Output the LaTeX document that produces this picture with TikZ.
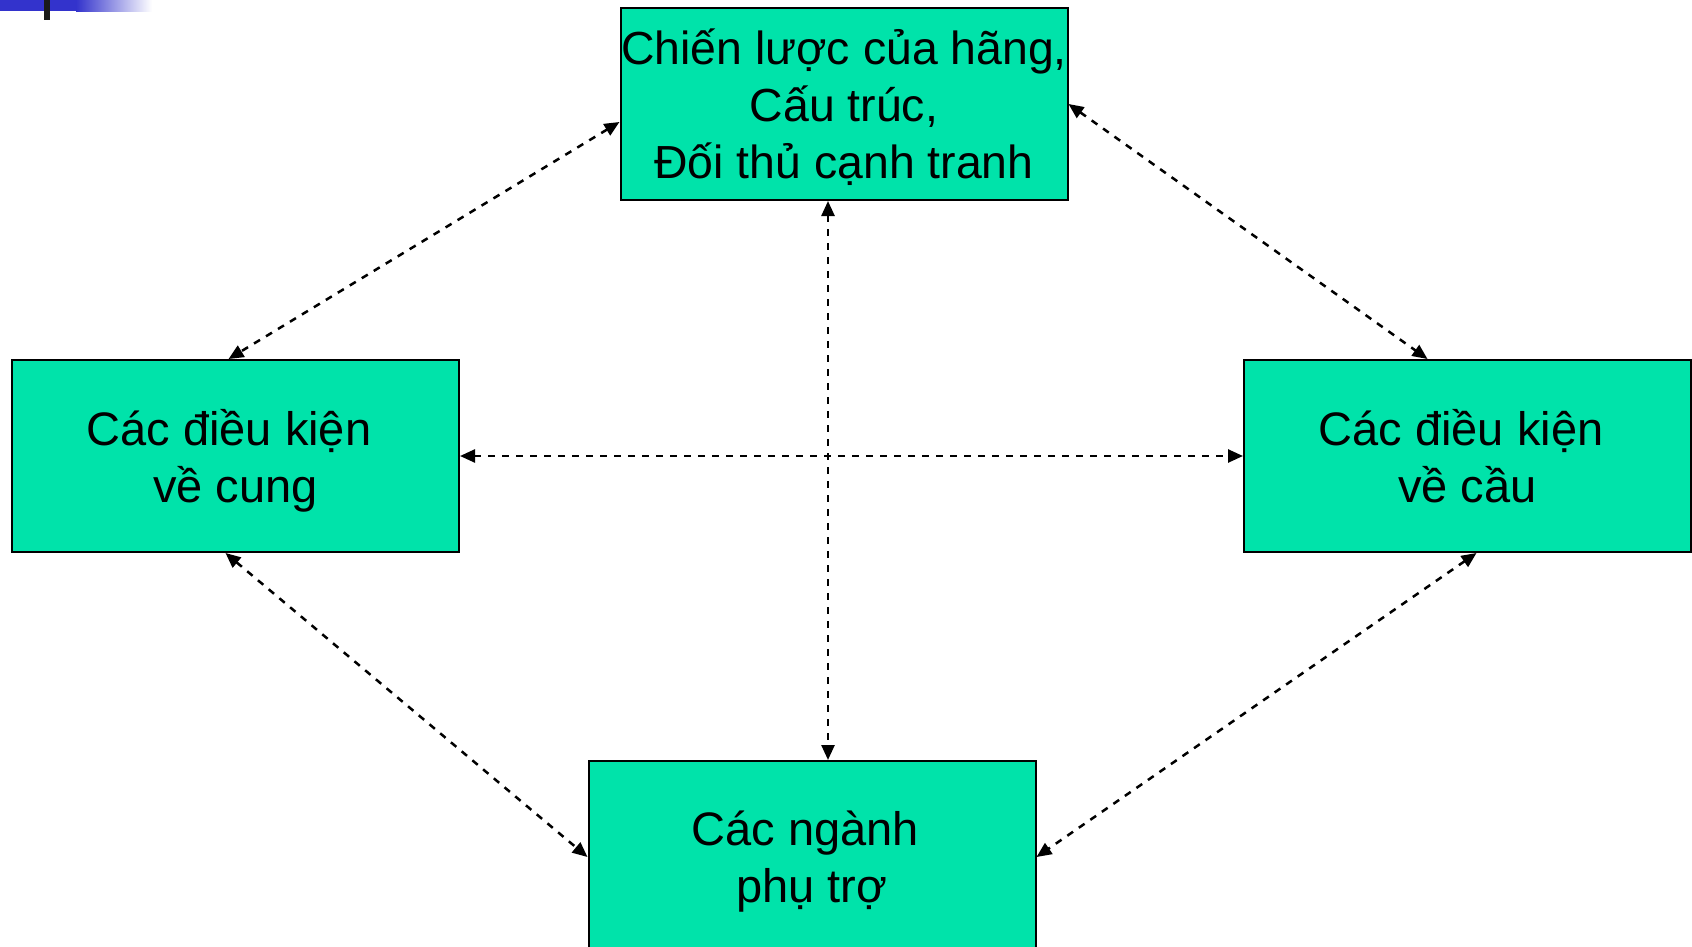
\documentclass[tikz,border=0pt]{standalone}
\usepackage{fontspec}
\setmainfont{Liberation Sans}
\usetikzlibrary{arrows.meta}
\definecolor{boxfill}{RGB}{0,227,170}
\definecolor{barblue}{RGB}{51,51,204}
\definecolor{barblack}{RGB}{26,26,26}
\newcommand{\trailsp}{\hspace*{0.278em}}
\tikzset{
  block/.style={draw=black, line width=2pt, fill=boxfill,
    minimum width=447pt, minimum height=192pt, inner sep=0pt,
    align=center, text depth=0pt, font=\fontsize{47}{57}\selectfont},
  link/.style={line width=2.5pt, dash pattern=on 7pt off 7pt,
    >={Triangle[length=15pt,width=13pt]}, <->}
}
\begin{document}
\begin{tikzpicture}[x=1pt,y=-1pt]
  \clip (0,0) rectangle (1692,947);
  \fill[white] (0,0) rectangle (1692,947);

  % title bar ornament
  \fill[barblue] (0,0) rectangle (76,11);
  \shade[left color=barblue, right color=white] (76,0) rectangle (152,12);
  \fill[barblack] (44,0) rectangle (50,20);

  % boxes
  \node[block, font=\fontsize{46.4}{57}\selectfont] (top) at (844,104)
    {Chiến lược của hãng,\\Cấu trúc,\\Đối thủ cạnh tranh};
  \node[block] (left)  at (235.5,456) {Các điều kiện\trailsp\\về cung};
  \node[block] (right) at (1467.5,456) {Các điều kiện\trailsp\\về cầu};
  \node[block] (bot)   at (812,857)   {Các ngành\trailsp\\phụ trợ};

  % links
  \draw[link] ([yshift=-18pt]top.west) -- ([xshift=-7pt]left.north);
  \draw[link] (top.east) -- ([xshift=-40pt]right.north);
  \draw[link] ([xshift=-16pt]top.south) -- ([xshift=16pt]bot.north);
  \draw[link] (left.east) -- (right.west);
  \draw[link] ([xshift=-10pt]left.south) -- (bot.west);
  \draw[link] ([xshift=9pt]right.south) -- (bot.east);
\end{tikzpicture}
\end{document}
